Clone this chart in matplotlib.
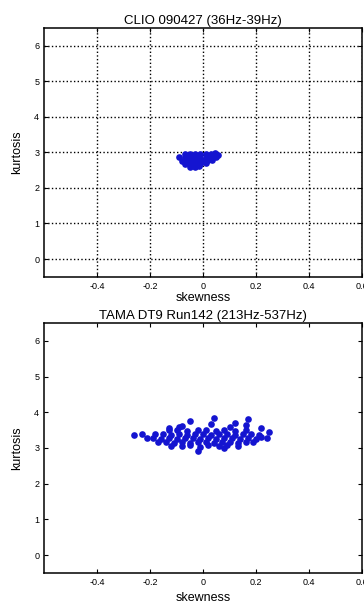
import matplotlib
matplotlib.use("Agg")
import matplotlib.pyplot as plt
import numpy as np

# CLIO cluster (skewness, kurtosis)
clio_skew = [-0.07, -0.05, -0.03, -0.01, 0.01, 0.03, 0.045, 0.055,
             -0.09, -0.07, -0.05, -0.03, -0.01, 0.01, 0.03, 0.05,
             -0.08, -0.06, -0.04, -0.02, 0.0, 0.02, 0.035,
             -0.07, -0.05, -0.03, -0.01, 0.01,
             -0.05, -0.03, -0.015]
clio_kurt = [2.95, 2.96, 2.94, 2.95, 2.96, 2.95, 2.97, 2.92,
             2.86, 2.87, 2.85, 2.86, 2.87, 2.85, 2.86, 2.88,
             2.77, 2.76, 2.78, 2.76, 2.77, 2.78, 2.79,
             2.68, 2.69, 2.67, 2.68, 2.70,
             2.60, 2.59, 2.61]

# TAMA cluster
tama_skew = [-0.12, -0.08, -0.05, -0.01, 0.02, 0.06, 0.09, 0.13,
             -0.17, -0.14, -0.11, -0.08, -0.05, -0.02, 0.01, 0.04, 0.07, 0.10, 0.13, 0.16, 0.19,
             -0.19, -0.16, -0.13, -0.10, -0.07, -0.04, -0.01, 0.02, 0.05, 0.08, 0.11, 0.14, 0.17, 0.20, 0.22,
             -0.18, -0.15, -0.12, -0.09, -0.06, -0.03, 0.0, 0.03, 0.06, 0.09, 0.12, 0.15, 0.18, 0.21,
             -0.13, -0.10, -0.06, -0.02, 0.01, 0.05, 0.08, 0.12, 0.16,
             -0.26, -0.23, -0.21, -0.13, -0.08, -0.05, 0.03, 0.04, 0.12, 0.17,
             0.16, 0.22, 0.25, 0.24, -0.02, 0.08, -0.09, 0.10]
tama_kurt = [3.06, 3.05, 3.08, 3.04, 3.07, 3.05, 3.08, 3.06,
             3.16, 3.18, 3.15, 3.17, 3.14, 3.16, 3.18, 3.15, 3.17, 3.16, 3.14, 3.18, 3.16,
             3.27, 3.25, 3.28, 3.26, 3.29, 3.27, 3.25, 3.28, 3.26, 3.29, 3.27, 3.25, 3.28, 3.26, 3.30,
             3.38, 3.40, 3.37, 3.39, 3.36, 3.38, 3.40, 3.37, 3.39, 3.38, 3.36, 3.40, 3.38, 3.37,
             3.49, 3.50, 3.48, 3.51, 3.49, 3.47, 3.50, 3.48, 3.51,
             3.35, 3.38, 3.28, 3.55, 3.62, 3.75, 3.68, 3.85, 3.70, 3.80,
             3.65, 3.55, 3.45, 3.28, 2.92, 3.00, 3.58, 3.60]

titles = ["CLIO 090427 (36Hz-39Hz)", "TAMA DT9 Run142 (213Hz-537Hz)"]
xticks = [-0.4, -0.2, 0, 0.2, 0.4, 0.6]
xticklabels = ["-0.4", "-0.2", "0", "0.2", "0.4", "0.6"]
yticks = [0, 1, 2, 3, 4, 5, 6]

plt.rcParams['font.family'] = ['Liberation Sans', 'DejaVu Sans']

fig = plt.figure(figsize=(3.64, 6.07), dpi=100)
ax1 = fig.add_axes([0.121, 0.544, 0.874, 0.410])
ax2 = fig.add_axes([0.121, 0.056, 0.874, 0.412])

data = [(clio_skew, clio_kurt), (tama_skew, tama_kurt)]
for i, ax in enumerate([ax1, ax2]):
    sk, ku = data[i]
    ax.plot(sk, ku, 'o', color='#1414d0', markersize=4.8, markeredgewidth=0)
    ax.set_xlim(-0.6, 0.6)
    ax.set_ylim(-0.5, 6.5)
    ax.set_xticks(xticks)
    ax.set_xticklabels(xticklabels)
    ax.set_yticks(yticks)
    ax.tick_params(direction='in', length=3, labelsize=6.5, width=0.8,
                   top=True, right=True)
    for s in ax.spines.values():
        s.set_linewidth(1.1)
    ax.set_title(titles[i], fontsize=9.5, pad=3)
    ax.set_xlabel("skewness", fontsize=9, labelpad=1 if i == 0 else 4)
    ax.set_ylabel("kurtosis", fontsize=9, labelpad=8)

ax1.grid(True, color='k', linestyle=':', linewidth=1.0)

fig.savefig("out.png", dpi=100)
